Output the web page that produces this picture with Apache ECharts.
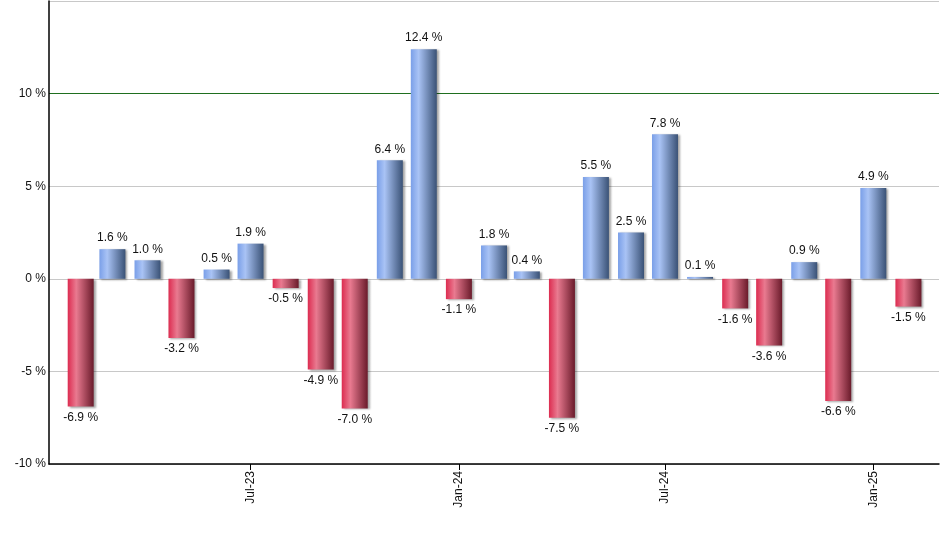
<!DOCTYPE html>
<html>
<head>
<meta charset="utf-8">
<script src="https://cdn.jsdelivr.net/npm/echarts@6/dist/echarts.min.js"></script>
<style>html,body{margin:0;padding:0;background:#fff}#c{width:940px;height:550px}</style>
</head>
<body>
<div id="c"></div>
<script>
const periods = ['2023-02','2023-03','2023-04','2023-05','2023-06','2023-07','2023-08','2023-09','2023-10','2023-11','2023-12',
  '2024-01','2024-02','2024-03','2024-04','2024-05','2024-06','2024-07','2024-08','2024-09','2024-10','2024-11','2024-12',
  '2025-01','2025-02'];
const returns = [-6.9, 1.6, 1.0, -3.2, 0.5, 1.9, -0.5, -4.9, -7.0, 6.4, 12.4,
  -1.1, 1.8, 0.4, -7.5, 5.5, 2.5, 7.8, 0.1, -1.6, -3.6, 0.9, -6.6,
  4.9, -1.5];
const xTickDates = ['2023-07', '2024-01', '2024-07', '2025-01'];
const monthNames = ['Jan','Feb','Mar','Apr','May','Jun','Jul','Aug','Sep','Oct','Nov','Dec'];
const yTicks = [-10, -5, 0, 5, 10, 15];
const axisStart = '2023-01-04';
const axisEnd = '2025-02-28';

function ts(s) { const p = s.split('-').map(Number); return Date.UTC(p[0], p[1] - 1, p[2] || 1); }

const blueGrad = new echarts.graphic.LinearGradient(0, 0, 1, 0, [
  {offset: 0, color: '#7a9fe8'}, {offset: 0.3, color: '#a9c3f5'}, {offset: 1, color: '#3a5276'}]);
const redGrad = new echarts.graphic.LinearGradient(0, 0, 1, 0, [
  {offset: 0, color: '#dc2c50'}, {offset: 0.33, color: '#e97a90'}, {offset: 1, color: '#6a1b2b'}]);

const seriesData = periods.map((p, i) => {
  const v = returns[i];
  return {
    value: [ts(p), v],
    itemStyle: {color: v >= 0 ? blueGrad : redGrad},
    label: {position: v >= 0 ? 'top' : 'bottom'}
  };
});
const tickValues = xTickDates.map(ts);
const FONT = 'Liberation Sans, Arial, sans-serif';

const chart = echarts.init(document.getElementById('c'), null, {renderer: 'canvas'});
chart.setOption({
  animation: false,
  backgroundColor: '#fff',
  grid: {left: 49, right: 1, top: 1, bottom: 86, containLabel: false},
  xAxis: {
    type: 'value',
    min: ts(axisStart),
    max: ts(axisEnd),
    axisLine: {onZero: false, lineStyle: {color: '#000', width: 1.5}},
    axisTick: {show: true, length: 6, lineStyle: {color: '#000'}, customValues: tickValues},
    splitLine: {show: false},
    axisLabel: {
      customValues: tickValues,
      rotate: 90, fontSize: 12, color: '#111', fontFamily: FONT, margin: 7,
      formatter: function (v) {
        const d = new Date(v);
        return monthNames[d.getUTCMonth()] + '-' + String(d.getUTCFullYear()).slice(2);
      }
    }
  },
  yAxis: {
    type: 'value',
    min: yTicks[0],
    max: yTicks[yTicks.length - 1],
    interval: 5,
    axisLine: {show: true, lineStyle: {color: '#000', width: 1.5}},
    axisTick: {show: false},
    splitLine: {show: true, lineStyle: {color: ['#c8c8c8', '#c8c8c8', '#c8c8c8', '#c8c8c8', '#1f6f1f', '#c8c8c8'], width: 1}},
    axisLabel: {
      fontSize: 12, color: '#111', fontFamily: FONT, margin: 3,
      formatter: function (v) { return v === yTicks[yTicks.length - 1] ? '' : v + ' %'; }
    }
  },
  series: [{
    type: 'bar',
    barWidth: 26,
    data: seriesData,
    itemStyle: {shadowColor: 'rgba(0,0,0,0.35)', shadowBlur: 2, shadowOffsetX: 2, shadowOffsetY: 1},
    label: {
      show: true, distance: 5, fontSize: 12, color: '#111', fontFamily: FONT,
      formatter: function (p) { return p.value[1].toFixed(1) + ' %'; }
    }
  }]
});
</script>
</body>
</html>
